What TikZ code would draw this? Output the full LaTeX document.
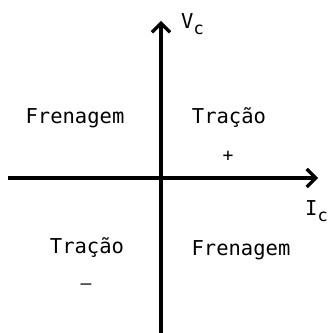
\documentclass[tikz,border=0pt]{standalone}
\usepackage{fontspec}
\setmonofont{DejaVu Sans Mono}
\usetikzlibrary{arrows.meta}

\newcommand{\subc}{\raisebox{-6pt}{\fontsize{17}{17}\selectfont c}}

\begin{document}
\begin{tikzpicture}[x=1pt, y=1pt,
  axis/.style={line width=3.4pt, -{Straight Barb[length=9pt, width=18pt, line width=3.2pt]}},
  lbl/.style={font=\ttfamily\fontsize{20.5}{22}\selectfont, inner sep=0pt},
  sgn/.style={font=\ttfamily\fontsize{18}{20}\selectfont, inner sep=0pt}]
\useasboundingbox (0,0) rectangle (328,333);
% eixos
\coordinate (O)  at (161,155);
\coordinate (xl) at (8,155);
\coordinate (xr) at (318,155);
\coordinate (yb) at (161,0);
\coordinate (yt) at (161,312);
\draw[axis] (xl) -- (xr);
\draw[axis] (yb) -- (yt);
\node[lbl, anchor=south west] (vc) at (181,298) {V\subc};
\node[lbl, anchor=north west] (ic) at (305,133) {I\subc};
% quadrantes
\node[lbl] (q2) at (75,215) {Frenagem};
\node[lbl] (q1) at (229,215) {Tração};
\node[sgn] (pos) at (228,177) {+};
\node[lbl] (q3) at (87,85) {Tração};
\node[lbl] (q4) at (241,83) {Frenagem};
\node[sgn] (neg) at (86,46) {\textendash};
\end{tikzpicture}
\end{document}
